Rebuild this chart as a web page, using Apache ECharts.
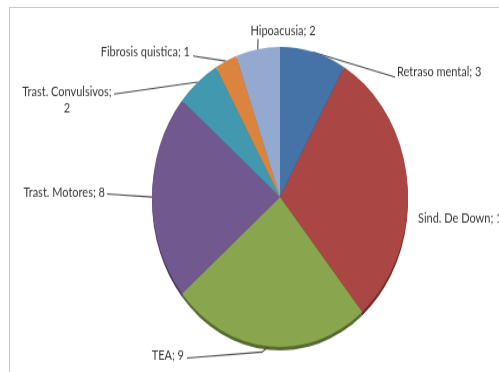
<!DOCTYPE html>
<html>
<head>
<meta charset="utf-8">
<script src="https://cdn.jsdelivr.net/npm/echarts@6/dist/echarts.min.js"></script>
<style>
  html, body { margin: 0; padding: 0; background: #fff; overflow: hidden; }
  #wrap { position: relative; width: 499px; height: 372px; overflow: hidden; background: #fff; }
  #frame { position: absolute; left: 9px; top: 7px; width: 700px; height: 700px;
           border-left: 1.5px solid #c9c9c9; border-top: 1.5px solid #c9c9c9; }
  #chart { position: absolute; left: 0; top: 0; width: 499px; height: 318px; transform-origin: 0 0; }
</style>
</head>
<body>
<div id="wrap"><div id="frame"></div><div id="chart"></div></div>
<script>
// Diagnoses and number of cases
const categories = ['Retraso mental', 'Sind. De Down', 'TEA', 'Trast. Motores', 'Trast. Convulsivos', 'Fibrosis quistica', 'Hipoacusia'];
const counts = [3, 11, 9, 8, 2, 1, 2];

// Slice face colours and the darker tones for the pie's edge
const faceColors = ['#4572A7', '#AA4643', '#89A54E', '#71588F', '#4198AF', '#DB843D', '#93A9CF'];
const rimColors  = ['#2E4C72', '#6E2C2A', '#566B30', '#4A3A5E', '#2A6575', '#8F5628', '#5F6F8A'];

// The pie is tilted: it is laid out as a circle, then the chart is stretched vertically.
const RX = 128, RY = 150;
const TILT = RY / RX;
const CX = 280, CY = 197;   // page pixels
const RIM = 3.5;            // page pixels of edge showing below the face

// Where each label sits on the page, and where its leader line meets the text
const labelSpots = {
  'Retraso mental':     { x: 397, y: 72,  align: 'left',   end: [[395, 77]] },
  'Sind. De Down':      { x: 418, y: 218, align: 'left',   end: null },
  'TEA':                { x: 184, y: 356, align: 'right',  end: [[262, 352], [187, 358]] },
  'Trast. Motores':     { x: 105, y: 193, align: 'right',  end: [[107, 194]] },
  'Trast. Convulsivos': { x: 67,  y: 100, align: 'center', end: [[114, 94]] },
  'Fibrosis quistica':  { x: 190, y: 52,  align: 'right',  end: [[193, 56]] },
  'Hipoacusia':         { x: 283, y: 31,  align: 'center', end: [[258, 39]] }
};

document.getElementById('chart').style.transform = 'scaleY(' + TILT + ')';

const faceData = categories.map((name, i) => {
  const item = { name: name, value: counts[i], itemStyle: { color: faceColors[i] } };
  if (name === 'Trast. Convulsivos') item.label = { formatter: '{b};\n{c}' };
  if (!labelSpots[name].end) item.labelLine = { show: false };
  return item;
});
const rimData = categories.map((name, i) => ({ name: name, value: counts[i], itemStyle: { color: rimColors[i] } }));

const chart = echarts.init(document.getElementById('chart'), null, { renderer: 'canvas' });
chart.setOption({
  animation: false,
  backgroundColor: 'transparent',
  series: [
    {
      type: 'pie',
      silent: true,
      startAngle: 90,
      clockwise: true,
      center: [CX, (CY + RIM) / TILT],
      radius: RX,
      label: { show: false },
      labelLine: { show: false },
      itemStyle: { borderWidth: 0 },
      data: rimData,
      z: 1
    },
    {
      type: 'pie',
      startAngle: 90,
      clockwise: true,
      center: [CX, CY / TILT],
      radius: RX,
      avoidLabelOverlap: false,
      itemStyle: { borderWidth: 0 },
      label: {
        show: true,
        position: 'outside',
        formatter: '{b}; {c}',
        color: '#363636',
        fontFamily: 'Lato, "Liberation Sans", sans-serif',
        fontSize: 11,
        lineHeight: 17 / TILT,
        overflow: 'none'
      },
      labelLine: { show: true, length: 10, length2: 10, lineStyle: { color: '#4a4a4a', width: 1.1 } },
      labelLayout: function (params) {
        const spot = labelSpots[categories[params.dataIndex]];
        const out = { x: spot.x, y: spot.y / TILT, align: spot.align, verticalAlign: 'middle' };
        if (spot.end && params.labelLinePoints && params.labelLinePoints[0]) {
          out.labelLinePoints = [params.labelLinePoints[0]].concat(spot.end.map(p => [p[0], p[1] / TILT]));
        }
        return out;
      },
      data: faceData,
      z: 2
    }
  ]
});
</script>
</body>
</html>
